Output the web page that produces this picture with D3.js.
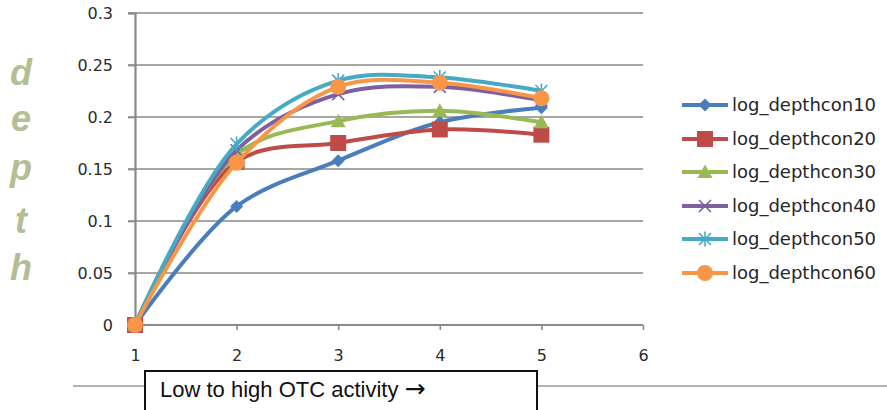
<!DOCTYPE html>
<html><head><meta charset="utf-8">
<script src="https://cdn.jsdelivr.net/npm/d3@7"></script>
<style>
html,body{margin:0;padding:0;background:#fff;}
svg{display:block;}
</style></head>
<body>
<svg id="c" width="887" height="410"></svg>
<script>
const xValues = [1, 2, 3, 4, 5];
const seriesNames = ["log_depthcon10","log_depthcon20","log_depthcon30","log_depthcon40","log_depthcon50","log_depthcon60"];
const depthcon10 = [0, 0.114, 0.158, 0.195, 0.209];
const depthcon20 = [0, 0.157, 0.175, 0.188, 0.183];
const depthcon30 = [0, 0.164, 0.196, 0.206, 0.195];
const depthcon40 = [0, 0.168, 0.222, 0.229, 0.216];
const depthcon50 = [0, 0.174, 0.235, 0.238, 0.225];
const depthcon60 = [0, 0.156, 0.229, 0.233, 0.218];
const seriesValues = [depthcon10, depthcon20, depthcon30, depthcon40, depthcon50, depthcon60];
const colors = ["#4A7EBB","#BE4B48","#98B954","#7D60A0","#46AAC5","#F79646"];
const markers = ["diamond","square","triangle","x","star","circle"];
const yTicks = [0, 0.05, 0.1, 0.15, 0.2, 0.25, 0.3];
const yTickLabels = ["0","0.05","0.1","0.15","0.2","0.25","0.3"];
const xTicks = [1, 2, 3, 4, 5, 6];
const yLabelLetters = ["d","e","p","t","h"];
const xTitle = "Low to high OTC activity";
const xTitleArrow = "\u2192";

const svg = d3.select("#c");
const x = d3.scaleLinear().domain([1, 6]).range([135, 643]);
const y = d3.scaleLinear().domain([0, 0.3]).range([325, 13]);
const tickFont = "DejaVu Sans, sans-serif";

// gridlines
svg.append("g").selectAll("line").data(yTicks.filter(d => d > 0)).join("line")
  .attr("x1", 128).attr("x2", x(6)).attr("y1", d => y(d)).attr("y2", d => y(d))
  .attr("stroke", "#8a8a8a").attr("stroke-width", 1.6);

// y axis
const yAxis = svg.append("g").attr("transform", `translate(${x(1)},0)`)
  .call(d3.axisLeft(y).tickValues(yTicks).tickFormat((d, i) => yTickLabels[i]).tickSize(7).tickPadding(15));
yAxis.select(".domain").attr("stroke", "#8a8a8a").attr("stroke-width", 2.2);
yAxis.selectAll(".tick line").attr("stroke", "#8a8a8a").attr("stroke-width", 1.6);
yAxis.selectAll(".tick text").style("font-family", tickFont).style("font-size", "16px").attr("fill", "#2b2b2b");

// x axis
const xAxis = svg.append("g").attr("transform", `translate(0,${y(0)})`)
  .call(d3.axisBottom(x).tickValues(xTicks).tickFormat(d3.format("d")).tickSize(5).tickPadding(20).tickSizeOuter(0));
xAxis.select(".domain").attr("stroke", "#8a8a8a").attr("stroke-width", 2).attr("d", `M128,0H${x(6)}`);
xAxis.selectAll(".tick line").attr("stroke", "#8a8a8a").attr("stroke-width", 1.6);
xAxis.selectAll(".tick text").style("font-family", tickFont).style("font-size", "16px").attr("fill", "#2b2b2b");

// marker drawing
function drawMarker(g, type, color, cx, cy) {
  if (type === "diamond") {
    const r = 6.5;
    g.append("path").attr("d", `M${cx},${cy - r}L${cx + r},${cy}L${cx},${cy + r}L${cx - r},${cy}Z`).attr("fill", color);
  } else if (type === "square") {
    const r = 8;
    g.append("rect").attr("x", cx - r).attr("y", cy - r).attr("width", 2 * r).attr("height", 2 * r).attr("fill", color);
  } else if (type === "triangle") {
    const r = 7.5;
    g.append("path").attr("d", `M${cx},${cy - r}L${cx + r},${cy + r * 0.8}L${cx - r},${cy + r * 0.8}Z`).attr("fill", color);
  } else if (type === "x") {
    const r = 6;
    g.append("path").attr("d", `M${cx - r},${cy - r}L${cx + r},${cy + r}M${cx - r},${cy + r}L${cx + r},${cy - r}`)
      .attr("stroke", color).attr("stroke-width", 1.6).attr("fill", "none");
  } else if (type === "star") {
    const r = 6;
    g.append("path").attr("d", `M${cx - r},${cy - r}L${cx + r},${cy + r}M${cx - r},${cy + r}L${cx + r},${cy - r}M${cx},${cy - r - 1.5}L${cx},${cy + r + 1.5}`)
      .attr("stroke", color).attr("stroke-width", 1.6).attr("fill", "none");
  } else if (type === "circle") {
    g.append("circle").attr("cx", cx).attr("cy", cy).attr("r", 8).attr("fill", color);
  }
}

const line = d3.line().x((d, i) => x(xValues[i])).y(d => y(d)).curve(d3.curveCatmullRom.alpha(0.5));

seriesValues.forEach((vals, si) => {
  const g = svg.append("g");
  g.append("path").datum(vals).attr("d", line).attr("fill", "none")
    .attr("stroke", colors[si]).attr("stroke-width", 4).attr("stroke-linejoin", "round");
  vals.forEach((v, i) => drawMarker(g, markers[si], colors[si], x(xValues[i]), y(v)));
});

// legend
const legendY = [105, 139, 172, 206, 239, 273];
seriesNames.forEach((name, i) => {
  const g = svg.append("g");
  const ly = legendY[i];
  g.append("line").attr("x1", 682).attr("x2", 728).attr("y1", ly).attr("y2", ly)
    .attr("stroke", colors[i]).attr("stroke-width", 4);
  drawMarker(g, markers[i], colors[i], 705, ly);
  g.append("text").attr("x", 732).attr("y", ly + 6).text(name)
    .style("font-family", tickFont).style("font-size", "18px").attr("fill", "#262626");
});

// y label stacked letters
const letterY = [85, 131, 180, 233, 280];
yLabelLetters.forEach((ch, i) => {
  svg.append("text").attr("x", 21).attr("y", letterY[i]).attr("text-anchor", "middle").text(ch)
    .style("font-family", "Liberation Sans, Arial, sans-serif").style("font-weight", "bold").style("font-style", "italic")
    .style("font-size", "36px").attr("fill", "#B3BE94");
});

// bottom line and title box
svg.append("line").attr("x1", 73).attr("x2", 887).attr("y1", 386).attr("y2", 386)
  .attr("stroke", "#9a9a9a").attr("stroke-width", 1.5);
svg.append("rect").attr("x", 145).attr("y", 371).attr("width", 392).attr("height", 45)
  .attr("fill", "#fff").attr("stroke", "#111").attr("stroke-width", 2);
const t = svg.append("text").attr("x", 160).attr("y", 397)
  .style("font-family", "Liberation Sans, Arial, sans-serif").style("font-size", "22px").attr("fill", "#111");
t.append("tspan").text(xTitle + " ");
t.append("tspan").text(xTitleArrow).style("font-family", "DejaVu Sans, sans-serif").style("font-size", "25px");
</script>
</body></html>
